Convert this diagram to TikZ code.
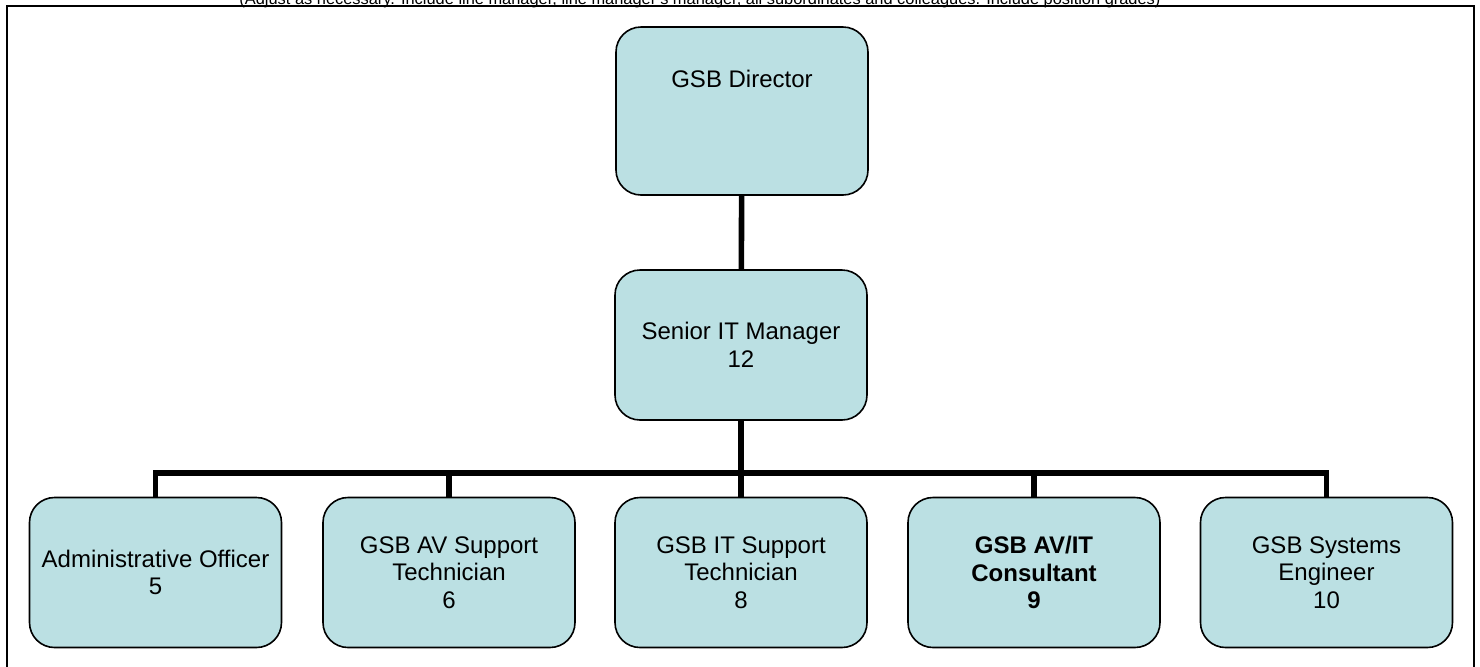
\documentclass[tikz,border=0pt]{standalone}
\usepackage{fontspec}
\setmainfont{Liberation Sans}
\usetikzlibrary{positioning}
\definecolor{postfill}{RGB}{187,224,227}
\tikzset{
  post/.style={draw=black, line width=0.8pt, fill=postfill, rounded corners=12.5pt,
    minimum width=126pt, minimum height=75pt, align=center, inner sep=2pt,
    font=\fontsize{12}{13.8}\selectfont},
  link/.style={line width=2.8pt},
}
\begin{document}
\begin{tikzpicture}[x=0.5pt, y=-0.5pt]
  \useasboundingbox (0,0) rectangle (1480,666);
  \clip (0,0) rectangle (1480,666);
  % note above the frame, only its lower part shows
  \node[anchor=base, inner sep=0pt, font=\fontsize{8.2}{9}\selectfont] (note) at (700,4)
    {(Adjust as necessary. Include line manager, line manager's manager, all subordinates and colleagues. Include position grades)};
  \draw[line width=1pt] (7,700) -- (7,5.5) -- (1473.5,5.5) -- (1473.5,700);

  % positions
  \node[post, minimum height=84pt] (dir) at (742,111) {GSB Director\\[18.8pt]\mbox{}};
  \node[post] (mgr) at (741,345) {Senior IT Manager\\12};
  \node[post] (admin) at (155.5,572.5) {Administrative Officer\\5};
  \node[post] (av) at (449,572.5) {GSB AV Support\\Technician\\6};
  \node[post] (it) at (741,572.5) {GSB IT Support\\Technician\\8};
  \node[post, font=\fontsize{12}{13.8}\selectfont\bfseries] (cons) at (1034,572.5) {GSB AV/IT\\Consultant\\9};
  \node[post] (sys) at (1326.5,572.5) {GSB Systems\\Engineer\\10};

  % reporting lines
  \coordinate (bus) at (741,473);
  \draw[link] (dir) -- (mgr);
  \draw[link] (mgr.south) -- (bus);
  \foreach \n in {admin,av,it,cons,sys}
    \draw[link] (bus) -| (\n.north);
\end{tikzpicture}
\end{document}
